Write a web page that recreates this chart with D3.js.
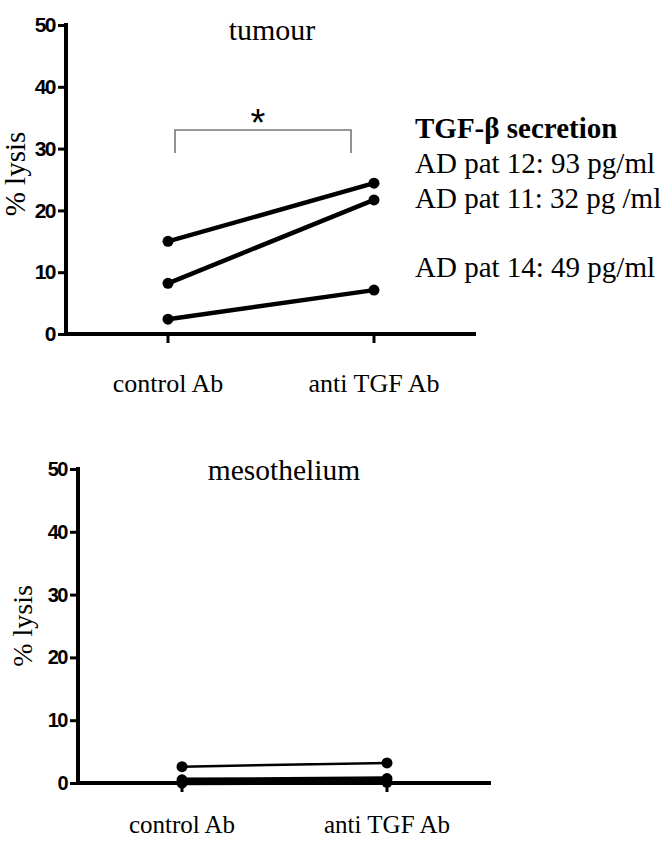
<!DOCTYPE html>
<html>
<head>
<meta charset="utf-8">
<script src="https://cdn.jsdelivr.net/npm/d3@7/dist/d3.min.js"></script>
<style>
  body { margin: 0; background: #fff; }
  svg { display: block; }
  .serif { font-family: 'Liberation Serif', 'Times New Roman', Times, serif; }
  .sans { font-family: 'Liberation Sans', Arial, Helvetica, sans-serif; }
</style>
</head>
<body>
<svg id="chart" width="664" height="850"></svg>
<script>
const categories = ['control Ab', 'anti TGF Ab'];
const yTicks = [0, 10, 20, 30, 40, 50];

// % lysis per patient, [control, anti TGF]
const tumourPat12 = [15.0, 24.4];
const tumourPat11 = [8.2, 21.7];
const tumourPat14 = [2.4, 7.1];

const mesoPatA = [2.6, 3.2];
const mesoPatB = [0.5, 0.7];
const mesoPatC = [0.0, 0.1];

const legendTitle = 'TGF-β secretion';
const legendLines = ['AD pat 12: 93 pg/ml', 'AD pat 11: 32 pg /ml', 'AD pat 14: 49 pg/ml'];

const svg = d3.select('#chart');

function panel({ left, right, top, bottom, ctlX, antiX, title, titleX, titleY, titleSize, labelX, labelY, labelSize, series, thin, tickSize, catSize, catY }) {
  const y = d3.scaleLinear().domain([0, 50]).range([bottom, top]);
  const x = d3.scaleOrdinal().domain(categories).range([ctlX, antiX]);
  const g = svg.append('g');

  // y axis
  g.append('g')
    .attr('transform', `translate(${left},0)`)
    .call(d3.axisLeft(y).tickValues(yTicks).tickSize(8).tickPadding(3).tickFormat(d3.format('d')))
    .call((a) => {
      a.attr('font-family', null).attr('font-size', null);
      a.select('.domain').remove();
      a.selectAll('.tick line').attr('stroke', '#000').attr('stroke-width', 3);
      a.selectAll('.tick text')
        .attr('class', 'sans')
        .attr('fill', '#000')
        .attr('font-weight', 'bold')
        .attr('font-size', tickSize)
        .attr('letter-spacing', '-1.5px');
    });
  g.append('line')
    .attr('x1', left).attr('x2', left)
    .attr('y1', top - 2).attr('y2', bottom + 2)
    .attr('stroke', '#000').attr('stroke-width', 4);

  // x axis
  g.append('line')
    .attr('x1', left).attr('x2', right)
    .attr('y1', bottom).attr('y2', bottom)
    .attr('stroke', '#000').attr('stroke-width', 4);
  categories.forEach((c) => {
    g.append('line')
      .attr('x1', x(c)).attr('x2', x(c))
      .attr('y1', bottom).attr('y2', bottom + 9)
      .attr('stroke', '#000').attr('stroke-width', 3);
    g.append('text')
      .attr('class', 'serif')
      .attr('x', x(c)).attr('y', catY)
      .attr('text-anchor', 'middle')
      .attr('font-size', catSize)
      .attr('fill', '#000')
      .text(c);
  });

  // title
  g.append('text')
    .attr('class', 'serif')
    .attr('x', titleX).attr('y', titleY)
    .attr('text-anchor', 'middle')
    .attr('font-size', titleSize)
    .text(title);

  // y label
  g.append('text')
    .attr('class', 'serif')
    .attr('transform', `translate(${labelX},${labelY}) rotate(-90)`)
    .attr('text-anchor', 'middle')
    .attr('font-size', labelSize)
    .text('% lysis');

  const lineGen = d3.line().x((d, i) => x(categories[i])).y((d) => y(d));
  series.forEach((s, si) => {
    g.append('path')
      .datum(s)
      .attr('fill', 'none')
      .attr('stroke', '#000')
      .attr('stroke-width', thin && si === 0 ? 2.5 : 4.5)
      .attr('d', lineGen);
    s.forEach((v, i) => {
      g.append('circle')
        .attr('cx', x(categories[i])).attr('cy', y(v))
        .attr('r', 5.5).attr('fill', '#000');
    });
  });
  return { x, y };
}

const tumourPanel = panel({
  left: 66, right: 476, top: 25, bottom: 334,
  ctlX: 168, antiX: 374,
  title: 'tumour', titleX: 272, titleY: 40, titleSize: 30,
  labelX: 25, labelY: 174, labelSize: 29,
  series: [tumourPat12, tumourPat11, tumourPat14],
  thin: false, tickSize: 21, catSize: 26, catY: 392,
});

// significance bracket
const bx1 = 175, bx2 = 351, by = tumourPanel.y(33.0), bBot = tumourPanel.y(29.3);
svg.append('path')
  .attr('d', `M${bx1},${bBot}V${by}H${bx2}V${bBot}`)
  .attr('fill', 'none').attr('stroke', '#777').attr('stroke-width', 1.6);
svg.append('text')
  .attr('class', 'sans')
  .attr('x', 258).attr('y', by + 6)
  .attr('text-anchor', 'middle')
  .attr('font-size', 38)
  .text('*');

// legend
svg.append('text')
  .attr('class', 'serif')
  .attr('x', 415).attr('y', 138)
  .attr('font-size', 29).attr('font-weight', 'bold')
  .text(legendTitle);
const legendY = [173, 208, 277];
legendLines.forEach((t, i) => {
  svg.append('text')
    .attr('class', 'serif')
    .attr('x', 415).attr('y', legendY[i])
    .attr('font-size', 29)
    .text(t);
});

panel({
  left: 78, right: 491, top: 469, bottom: 783,
  ctlX: 182, antiX: 387,
  title: 'mesothelium', titleX: 284, titleY: 480, titleSize: 29.5,
  labelX: 32, labelY: 626, labelSize: 28,
  series: [mesoPatA, mesoPatB, mesoPatC],
  thin: true, tickSize: 20, catSize: 25, catY: 833,
});
</script>
</body>
</html>
